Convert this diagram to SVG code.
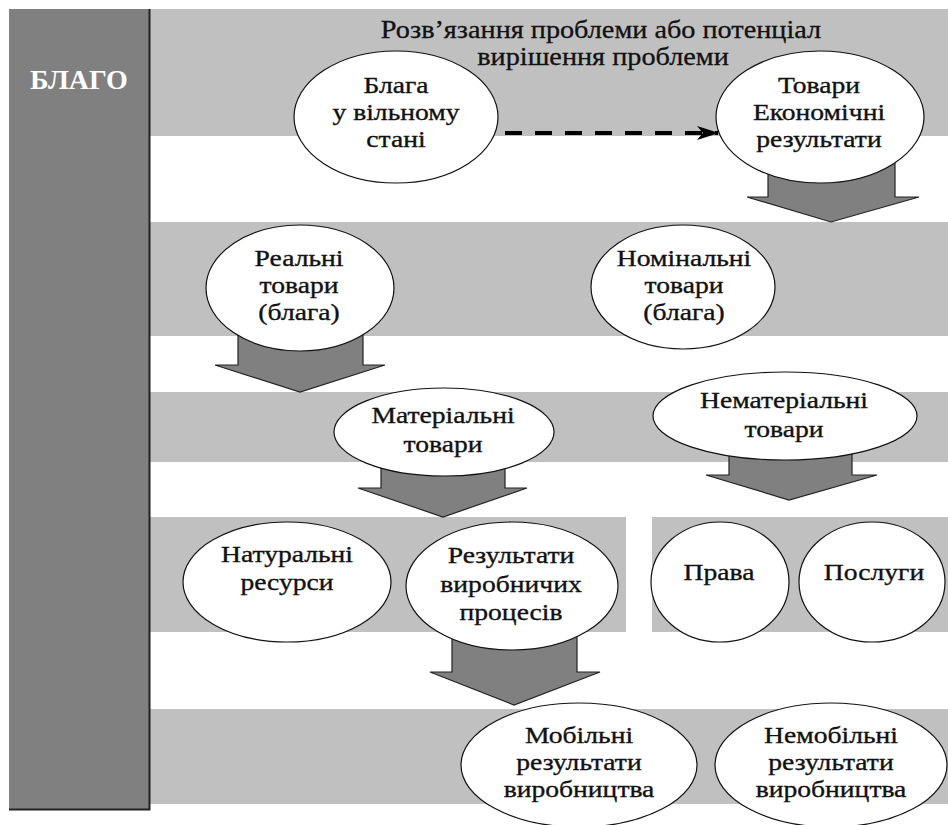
<svg xmlns="http://www.w3.org/2000/svg" width="948" height="825" viewBox="0 0 948 825">
<defs>
<style>
.band{fill:#c0c0c0}
.node{fill:#ffffff;stroke:#111;stroke-width:1.2}
.t{font-family:"Liberation Serif","Times New Roman",serif;font-size:24px;fill:#111;stroke:#111;stroke-width:0.35;text-anchor:middle}
.title{font-family:"Liberation Serif","Times New Roman",serif;font-size:25px;fill:#111;stroke:#111;stroke-width:0.3;text-anchor:middle}
.head{font-family:"Liberation Serif","Times New Roman",serif;font-size:28px;font-weight:bold;fill:#fff;text-anchor:middle}
.big{fill:#808080;stroke:#222;stroke-width:1.2;stroke-linejoin:miter}
</style>
<marker id="ah" viewBox="0 0 22 14" refX="21" refY="7" markerWidth="22" markerHeight="14" markerUnits="userSpaceOnUse" orient="auto">
<path d="M0,0 L22,7 L0,14 L6,7 z" fill="#000"/>
</marker>
</defs>
<rect width="948" height="825" fill="#fff"/>
<g id="bands">
<rect class="band" x="150" y="9" width="798" height="127"/>
<rect class="band" x="150" y="222" width="798" height="114"/>
<rect class="band" x="150" y="392" width="798" height="70"/>
<rect class="band" x="150" y="517" width="476" height="115"/>
<rect class="band" x="652" y="517" width="296" height="115"/>
<rect class="band" x="150" y="709" width="798" height="95"/>
</g>
<g id="blago">
<rect x="9" y="9" width="141" height="801" fill="#808080"/>
<path d="M149.5,9 V809.5 H9" fill="none" stroke="#222" stroke-width="2"/>
<text class="head" x="79" y="89">БЛАГО</text>
</g>
<g id="title">
<text class="title" transform="translate(601,38) scale(1.13,1)">Розв’язання проблеми або потенціал</text>
<text class="title" transform="translate(603,65) scale(1.13,1)">вирішення проблеми</text>
</g>
<g id="connectors">
<line x1="505" y1="133" x2="718" y2="133" stroke="#000" stroke-width="4" stroke-dasharray="17 13" marker-end="url(#ah)"/>
<polygon class="big" points="768,160 895,160 895,197 919,197 831,222 747,197 768,197"/>
<polygon class="big" points="238,330 363,330 363,365 385,365 300,392 215,365 238,365"/>
<polygon class="big" points="381,460 505,460 505,488 527,488 443,517 358,488 381,488"/>
<polygon class="big" points="729,445 852,445 852,475 877,475 789,500 706,475 729,475"/>
<polygon class="big" points="452,630 577,630 577,672 600,672 514,705 430,672 452,672"/>
</g>
<g id="n-blaga">
<ellipse class="node" cx="396" cy="117" rx="102" ry="66"/>
<text class="t" transform="translate(396,0) scale(1.15,1)"><tspan x="0" y="93">Блага</tspan><tspan x="0" y="120">у вільному</tspan><tspan x="0" y="147">стані</tspan></text>
</g>
<g id="n-tovary">
<ellipse class="node" cx="820" cy="117" rx="104" ry="66"/>
<text class="t" transform="translate(819,0) scale(1.15,1)"><tspan x="0" y="93">Товари</tspan><tspan x="0" y="120">Економічні</tspan><tspan x="0" y="147">результати</tspan></text>
</g>
<g id="n-realni">
<ellipse class="node" cx="300" cy="288" rx="94" ry="63"/>
<text class="t" transform="translate(299,0) scale(1.15,1)"><tspan x="0" y="266">Реальні</tspan><tspan x="0" y="293">товари</tspan><tspan x="0" y="320">(блага)</tspan></text>
</g>
<g id="n-nominalni">
<ellipse class="node" cx="683" cy="287" rx="92" ry="62"/>
<text class="t" transform="translate(684,0) scale(1.15,1)"><tspan x="0" y="266">Номінальні</tspan><tspan x="0" y="293">товари</tspan><tspan x="0" y="320">(блага)</tspan></text>
</g>
<g id="n-materialni">
<ellipse class="node" cx="444" cy="432" rx="110" ry="44"/>
<text class="t" transform="translate(443,0) scale(1.15,1)"><tspan x="0" y="423">Матеріальні</tspan><tspan x="0" y="452">товари</tspan></text>
</g>
<g id="n-nematerialni">
<ellipse class="node" cx="785" cy="416" rx="132" ry="44"/>
<text class="t" transform="translate(784,0) scale(1.15,1)"><tspan x="0" y="408">Нематеріальні</tspan><tspan x="0" y="437">товари</tspan></text>
</g>
<g id="n-naturalni">
<ellipse class="node" cx="287" cy="582" rx="104" ry="60"/>
<text class="t" transform="translate(287,0) scale(1.15,1)"><tspan x="0" y="562">Натуральні</tspan><tspan x="0" y="590">ресурси</tspan></text>
</g>
<g id="n-rezultaty">
<ellipse class="node" cx="512" cy="586" rx="106" ry="64"/>
<text class="t" transform="translate(511,0) scale(1.15,1)"><tspan x="0" y="563">Результати</tspan><tspan x="0" y="592">виробничих</tspan><tspan x="0" y="620">процесів</tspan></text>
</g>
<g id="n-prava">
<ellipse class="node" cx="720" cy="582" rx="69" ry="60"/>
<text class="t" transform="translate(719,0) scale(1.15,1)"><tspan x="0" y="580">Права</tspan></text>
</g>
<g id="n-posluhy">
<ellipse class="node" cx="872" cy="582" rx="73" ry="60"/>
<text class="t" transform="translate(874,0) scale(1.15,1)"><tspan x="0" y="580">Послуги</tspan></text>
</g>
<g id="n-mobilni">
<ellipse class="node" cx="579" cy="765" rx="118" ry="62"/>
<text class="t" transform="translate(579,0) scale(1.15,1)"><tspan x="0" y="743">Мобільні</tspan><tspan x="0" y="770">результати</tspan><tspan x="0" y="797">виробництва</tspan></text>
</g>
<g id="n-nemobilni">
<ellipse class="node" cx="831" cy="765" rx="116" ry="62"/>
<text class="t" transform="translate(831,0) scale(1.15,1)"><tspan x="0" y="743">Немобільні</tspan><tspan x="0" y="770">результати</tspan><tspan x="0" y="797">виробництва</tspan></text>
</g>
</svg>
